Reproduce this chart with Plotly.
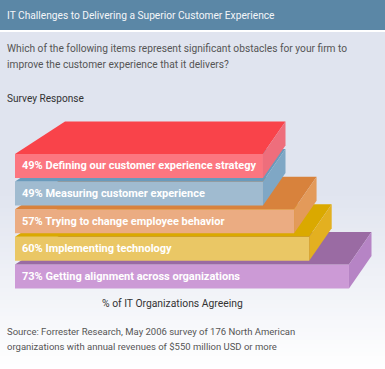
import plotly.graph_objects as go

# ---- data ----
categories = ["Defining our customer experience strategy", "Measuring customer experience",
              "Trying to change employee behavior", "Implementing technology",
              "Getting alignment across organizations"]
percent_labels = [49, 49, 57, 60, 73]
# The picture does not draw the bars in proportion to their labels:
# these are the bar lengths as they appear, on a scale where the 73% bar reads 73.
drawn_lengths = [54.2, 54.2, 61.0, 64.3, 73.0]

title = "IT Challenges to Delivering a Superior Customer Experience"
question = ["Which of the following items represent significant obstacles for your firm to",
            "improve the customer experience that it delivers?"]
subtitle = "Survey Response"
axis_title = "% of IT Organizations Agreeing"
source = ["Source: Forrester Research, May 2006 survey of 176 North American",
          "organizations with annual revenues of $550 million USD or more"]

# ---- style ----
W, H = 385, 369
front_colors = ["#FC7680", "#A0BBD0", "#EBAC82", "#EAC765", "#CC9AD6"]
top_colors = ["#F9434A", "#6A9ABB", "#D8823C", "#DAA900", "#9A6BA3"]
side_colors = ["#EE6E7C", "#7FA7C5", "#E39A5A", "#E3B020", "#B684C5"]
FONT = "Roboto"

PX_PER_UNIT = 4.575          # horizontal scale
ORIGIN_PX = 15
ROW_PITCH = 27.65            # vertical scale
ROW2_PX = 221.2
BAR_T = 24 / ROW_PITCH       # bar thickness, in rows
DEPTH_Y = 32.5 / ROW_PITCH   # perspective depth, in rows
DEPTH_X_LEFT = 50 / PX_PER_UNIT
DEPTH_X_RIGHT = 22.5 / PX_PER_UNIT

fig = go.Figure()
n = len(categories)
for i in reversed(range(n)):
    L = drawn_lengths[i]
    z = n - i
    front_top = i - BAR_T / 2
    front_bot = i + BAR_T / 2
    back_top = front_top - DEPTH_Y
    back_bot = front_bot - DEPTH_Y
    fig.add_trace(go.Scatter(
        x=[0, DEPTH_X_LEFT, L + DEPTH_X_RIGHT, L, 0],
        y=[front_top, back_top, back_top, front_top, front_top],
        mode="lines", line=dict(width=0), fill="toself", fillcolor=top_colors[i],
        hoverinfo="skip", zorder=z))
    fig.add_trace(go.Scatter(
        x=[L, L + DEPTH_X_RIGHT, L + DEPTH_X_RIGHT, L, L],
        y=[front_top, back_top, back_bot, front_bot, front_top],
        mode="lines", line=dict(width=0), fill="toself", fillcolor=side_colors[i],
        hoverinfo="skip", zorder=z))
    fig.add_trace(go.Bar(
        x=[L], y=[i], orientation="h", width=BAR_T,
        marker=dict(color=front_colors[i], line=dict(width=0)),
        hoverinfo="skip", zorder=z))

shapes = []
# page background: pale blue fading to white towards the bottom
STEP = 4
for p in range(0, H, STEP):
    t = max(0.0, (p - 190) / (H - 190))
    c = tuple(round(a + (255 - a) * t) for a in (224, 228, 239))
    shapes.append(dict(type="rect", xref="paper", yref="paper", layer="below",
                       x0=0, x1=1, y0=1 - p / H, y1=1 - (p + STEP) / H,
                       fillcolor="rgb(%d,%d,%d)" % c, line=dict(width=0)))
shapes.append(dict(type="rect", xref="paper", yref="paper", layer="below",
                   x0=0, x1=1, y0=1 - 32 / H, y1=1, fillcolor="white", line=dict(width=0)))
shapes.append(dict(type="rect", xref="paper", yref="paper", layer="below",
                   x0=0, x1=1, y0=1 - 30 / H, y1=1, fillcolor="#5B87A6", line=dict(width=0)))


def page_text(text, x_px, y_px, size, color, anchor="left"):
    return dict(text=text, xref="paper", yref="paper", x=x_px / W, y=1 - y_px / H,
                xanchor=anchor, yanchor="middle", showarrow=False,
                font=dict(family=FONT, size=size, color=color))


annotations = [page_text(title, 5, 15, 10.2, "#F4F6F9"),
               page_text(question[0], 5, 49, 10.2, "#555555"),
               page_text(question[1], 5, 64, 10.2, "#555555"),
               page_text(subtitle, 5, 98, 10.1, "#333333"),
               page_text(axis_title, 172.5, 303, 10.35, "#333333", "center"),
               page_text(source[0], 5, 331, 9.5, "#555555"),
               page_text(source[1], 5, 346, 9.5, "#555555")]
for i in range(n):
    annotations.append(dict(text="<b>%d%% %s</b>" % (percent_labels[i], categories[i]),
                            x=0, y=i, xref="x", yref="y", xanchor="left", yanchor="middle",
                            xshift=5, showarrow=False,
                            font=dict(family=FONT, size=11, color="#FFFFFF")))

fig.update_layout(
    width=W, height=H, margin=dict(l=0, r=0, t=0, b=0), showlegend=False, barmode="overlay",
    paper_bgcolor="white", plot_bgcolor="rgba(0,0,0,0)",
    xaxis=dict(range=[-ORIGIN_PX / PX_PER_UNIT, (W - ORIGIN_PX) / PX_PER_UNIT], visible=False),
    yaxis=dict(range=[2 + (H - ROW2_PX) / ROW_PITCH, 2 - ROW2_PX / ROW_PITCH], visible=False),
    shapes=shapes, annotations=annotations)

fig.write_html("out.html", config=dict(displayModeBar=False),
               post_script="document.body.style.margin='0';document.documentElement.style.overflow='hidden';")
